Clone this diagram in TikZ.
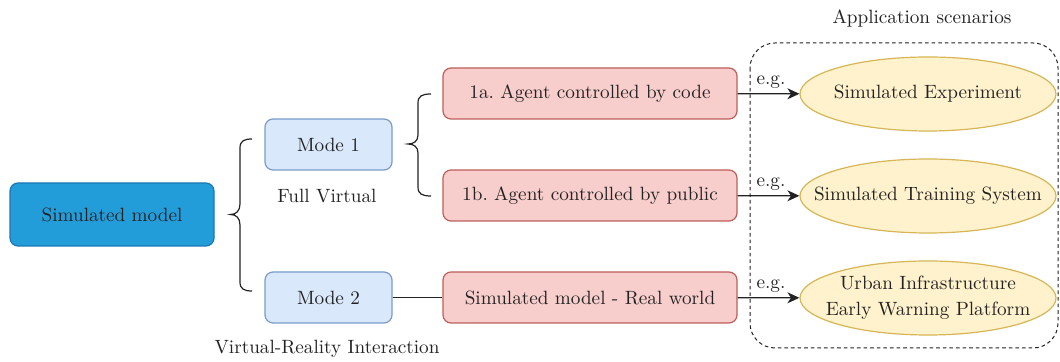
\documentclass[tikz,border=0pt]{standalone}
\usetikzlibrary{arrows.meta,shapes.geometric,calc}
\frenchspacing
\definecolor{ink}{HTML}{222222}
\definecolor{simfill}{HTML}{239DDA}
\definecolor{simdraw}{HTML}{1A78B4}
\definecolor{modefill}{HTML}{DAE8FC}
\definecolor{modedraw}{HTML}{7A9BCB}
\definecolor{redfill}{HTML}{F8CECC}
\definecolor{reddraw}{HTML}{BD5F5B}
\definecolor{yelfill}{HTML}{FFF2CC}
\definecolor{yeldraw}{HTML}{D6B656}
\tikzset{
  base/.style={rounded corners=4pt, line width=0.6pt, align=center, text=ink, inner sep=0pt},
  simbox/.style={base, fill=simfill, draw=simdraw, minimum width=102pt, minimum height=31.5pt},
  modebox/.style={base, fill=modefill, draw=modedraw, minimum width=63.5pt, minimum height=25.5pt},
  agentbox/.style={base, fill=redfill, draw=reddraw, minimum width=147pt, minimum height=25.5pt},
  scenario/.style={ellipse, fill=yelfill, draw=yeldraw, line width=0.6pt, text=ink, align=center,
    inner xsep=-16pt, inner ysep=-5pt, minimum width=128pt, minimum height=37pt},
  wire/.style={draw=ink, line width=0.7pt},
  arrow/.style={wire, -{Stealth[length=6pt,width=5.5pt,inset=1.8pt]}},
  caption/.style={text=ink, inner sep=0pt},
  eg/.style={text=ink, inner sep=2.5pt, above}
}
\begin{document}
\begin{tikzpicture}[x=0.5pt, y=-0.5pt, font=\fontsize{9.6}{13}\selectfont]
\useasboundingbox (0,0) rectangle (1060,362);

% main nodes
\node[simbox] (sim) at (112,214.5) {Simulated model};
\node[modebox] (m1) at (328.5,144.5) {Mode 1};
\node[modebox] (m2) at (328.5,297.5) {Mode 2};
\node[caption] (fv) at (327,196) {Full Virtual};
\node[caption] (vri) at (327,349) {Virtual-Reality Interaction};

\node[agentbox] (a1) at (590,93.5) {1a. Agent controlled by code};
\node[agentbox] (b1) at (590,195.5) {1b. Agent controlled by public};
\node[agentbox] (rw) at (590,297.5) {Simulated model - Real world};

% application scenarios
\draw[draw=ink, line width=0.5pt, dash pattern=on 1.8pt off 1.5pt, rounded corners=12.5pt]
  (750,43) rectangle (1058,348);
\node[caption] (app) at (922,18) {Application scenarios};
\node[scenario] (e1) at (928,94) {Simulated Experiment};
\node[scenario] (e2) at (928,196) {Simulated Training System};
\node[scenario] (e3) at (928,298) {Urban Infrastructure\\Early Warning Platform};

% brace from the simulated model to the two modes
\coordinate (t1) at ($(sim.east)+(16,0)$);
\coordinate (u1) at (252,139);
\coordinate (d1) at (252,291);
\draw[wire, line width=0.6pt] (u1) .. controls (244,139) and (240,141) .. (240,148) -- (240,204)
  .. controls (240,211) and (236,214.5) .. (t1)
  .. controls (236,214.5) and (240,218) .. (240,225) -- (240,282)
  .. controls (240,289) and (244,291) .. (d1);

% brace from mode 1 to the two agent variants
\coordinate (t2) at (408,144);
\coordinate (u2) at (431,94);
\coordinate (d2) at (431,196);
\draw[wire, line width=0.6pt] (u2) .. controls (422,94) and (418,96) .. (418,103) -- (418,135)
  .. controls (418,141) and (414,144) .. (t2)
  .. controls (414,144) and (418,147) .. (418,153) -- (418,187)
  .. controls (418,194) and (422,196) .. (d2);

% connectors
\draw[wire] (m2) -- (rw);
\draw[arrow] (a1) -- node[eg, pos=0.54] {e.g.} (e1);
\draw[arrow] (b1) -- node[eg, pos=0.54] {e.g.} (e2);
\draw[arrow] (rw) -- node[eg, pos=0.54] {e.g.} (e3);
\end{tikzpicture}
\end{document}
